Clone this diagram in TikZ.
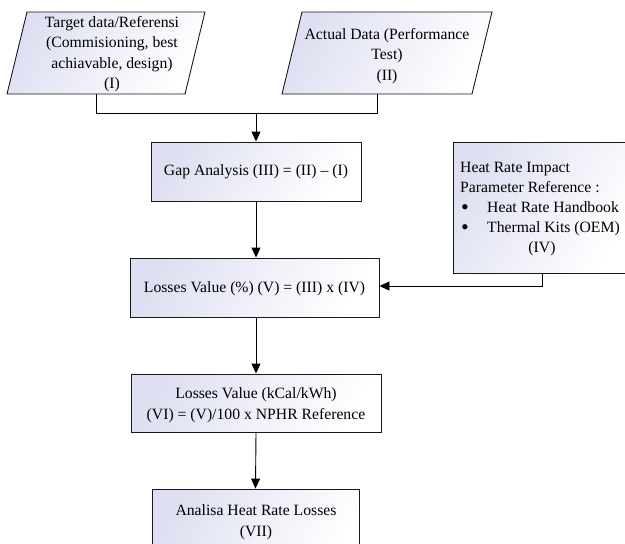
\documentclass[tikz,border=0pt]{standalone}
\usepackage{fontspec}
\setmainfont{Liberation Serif}
\usetikzlibrary{arrows.meta}
\definecolor{lav}{RGB}{222,224,242}
\tikzset{
  box/.style={draw=black!90, line width=0.9pt, shading=axis, left color=lav, right color=white, shading angle=60, inner sep=0pt},
  txt/.style={font=\fontsize{15.7}{20.5}\selectfont, align=center, inner sep=0pt},
  ltxt/.style={font=\fontsize{15.7}{20.5}\selectfont, inner sep=0pt, anchor=base west},
  conn/.style={line width=0.9pt, draw=black},
  arr/.style={conn, -{Triangle[length=10pt,width=9pt]}}
}
\begin{document}
\begin{tikzpicture}[x=1pt,y=-1pt]
\useasboundingbox (0,0) rectangle (625,544);
\clip (0,0) rectangle (625,544);
% parallelograms
\path[box] (7,94) -- (27,12) -- (205,12) -- (185,94) -- cycle;
\coordinate (p1b) at (96,94);
\node[txt] (t1) at (112,54) {Target data/Referensi\\(Commisioning, best\\achiavable, design)\\(I)};
\path[box] (282,94) -- (302,12) -- (492,12) -- (472,94) -- cycle;
\coordinate (p2b) at (377,94);
\node[txt] (t2) at (387,56) {Actual Data (Performance\\Test)\\(II)};
% boxes
\node[box, minimum width=210pt, minimum height=59pt] (gap) at (256,171.5) {};
\node[txt] at (gap) {Gap Analysis (III) = (II) -- (I)};
\node[box, minimum width=249pt, minimum height=59pt] (loss) at (254.5,287.5) {};
\node[txt] at (254.5,289) {Losses Value (\%) (V) = (III) x (IV)};
\node[box, minimum width=250pt, minimum height=58pt] (kcal) at (256,403) {};
\node[txt] at (256,405) {Losses Value (kCal/kWh)\\(VI) = (V)/100 x NPHR Reference};
\node[box, minimum width=207pt, minimum height=80pt] (ana) at (255.5,529) {};
\node[txt] at (256,522) {Analisa Heat Rate Losses\\(VII)};
\node[box, minimum width=178pt, minimum height=131pt] (heat) at (542,207.5) {};
\node[ltxt] (h1) at (460,172) {Heat Rate Impact};
\node[ltxt] (h2) at (460,192) {Parameter Reference :};
\node[ltxt] (h3b) at (461,214.5) {\scalebox{1.4}{\textbullet}};
\node[ltxt] (h3) at (487,212) {Heat Rate Handbook};
\node[ltxt] (h4b) at (461,234.5) {\scalebox{1.4}{\textbullet}};
\node[ltxt] (h4) at (487,232) {Thermal Kits (OEM)};
\node[txt, anchor=base] (h5) at (542,252) {(IV)};
% connectors
\coordinate (j1) at (96,113);
\coordinate (j2) at (377,113);
\coordinate (jm) at (256,113);
\draw[conn] (p1b) -- (j1) -- (j2) -- (p2b);
\draw[arr] (jm) -- (gap.north);
\draw[arr] (gap.south) -- (gap.south |- loss.north);
\coordinate (hj) at (542,286);
\draw[arr] (heat.south) -- (hj) -- (hj -| loss.east);
\draw[arr] (loss.south -| kcal.north) -- (kcal.north);
\draw[arr] (kcal.south) -- (ana.north);
\end{tikzpicture}
\end{document}
